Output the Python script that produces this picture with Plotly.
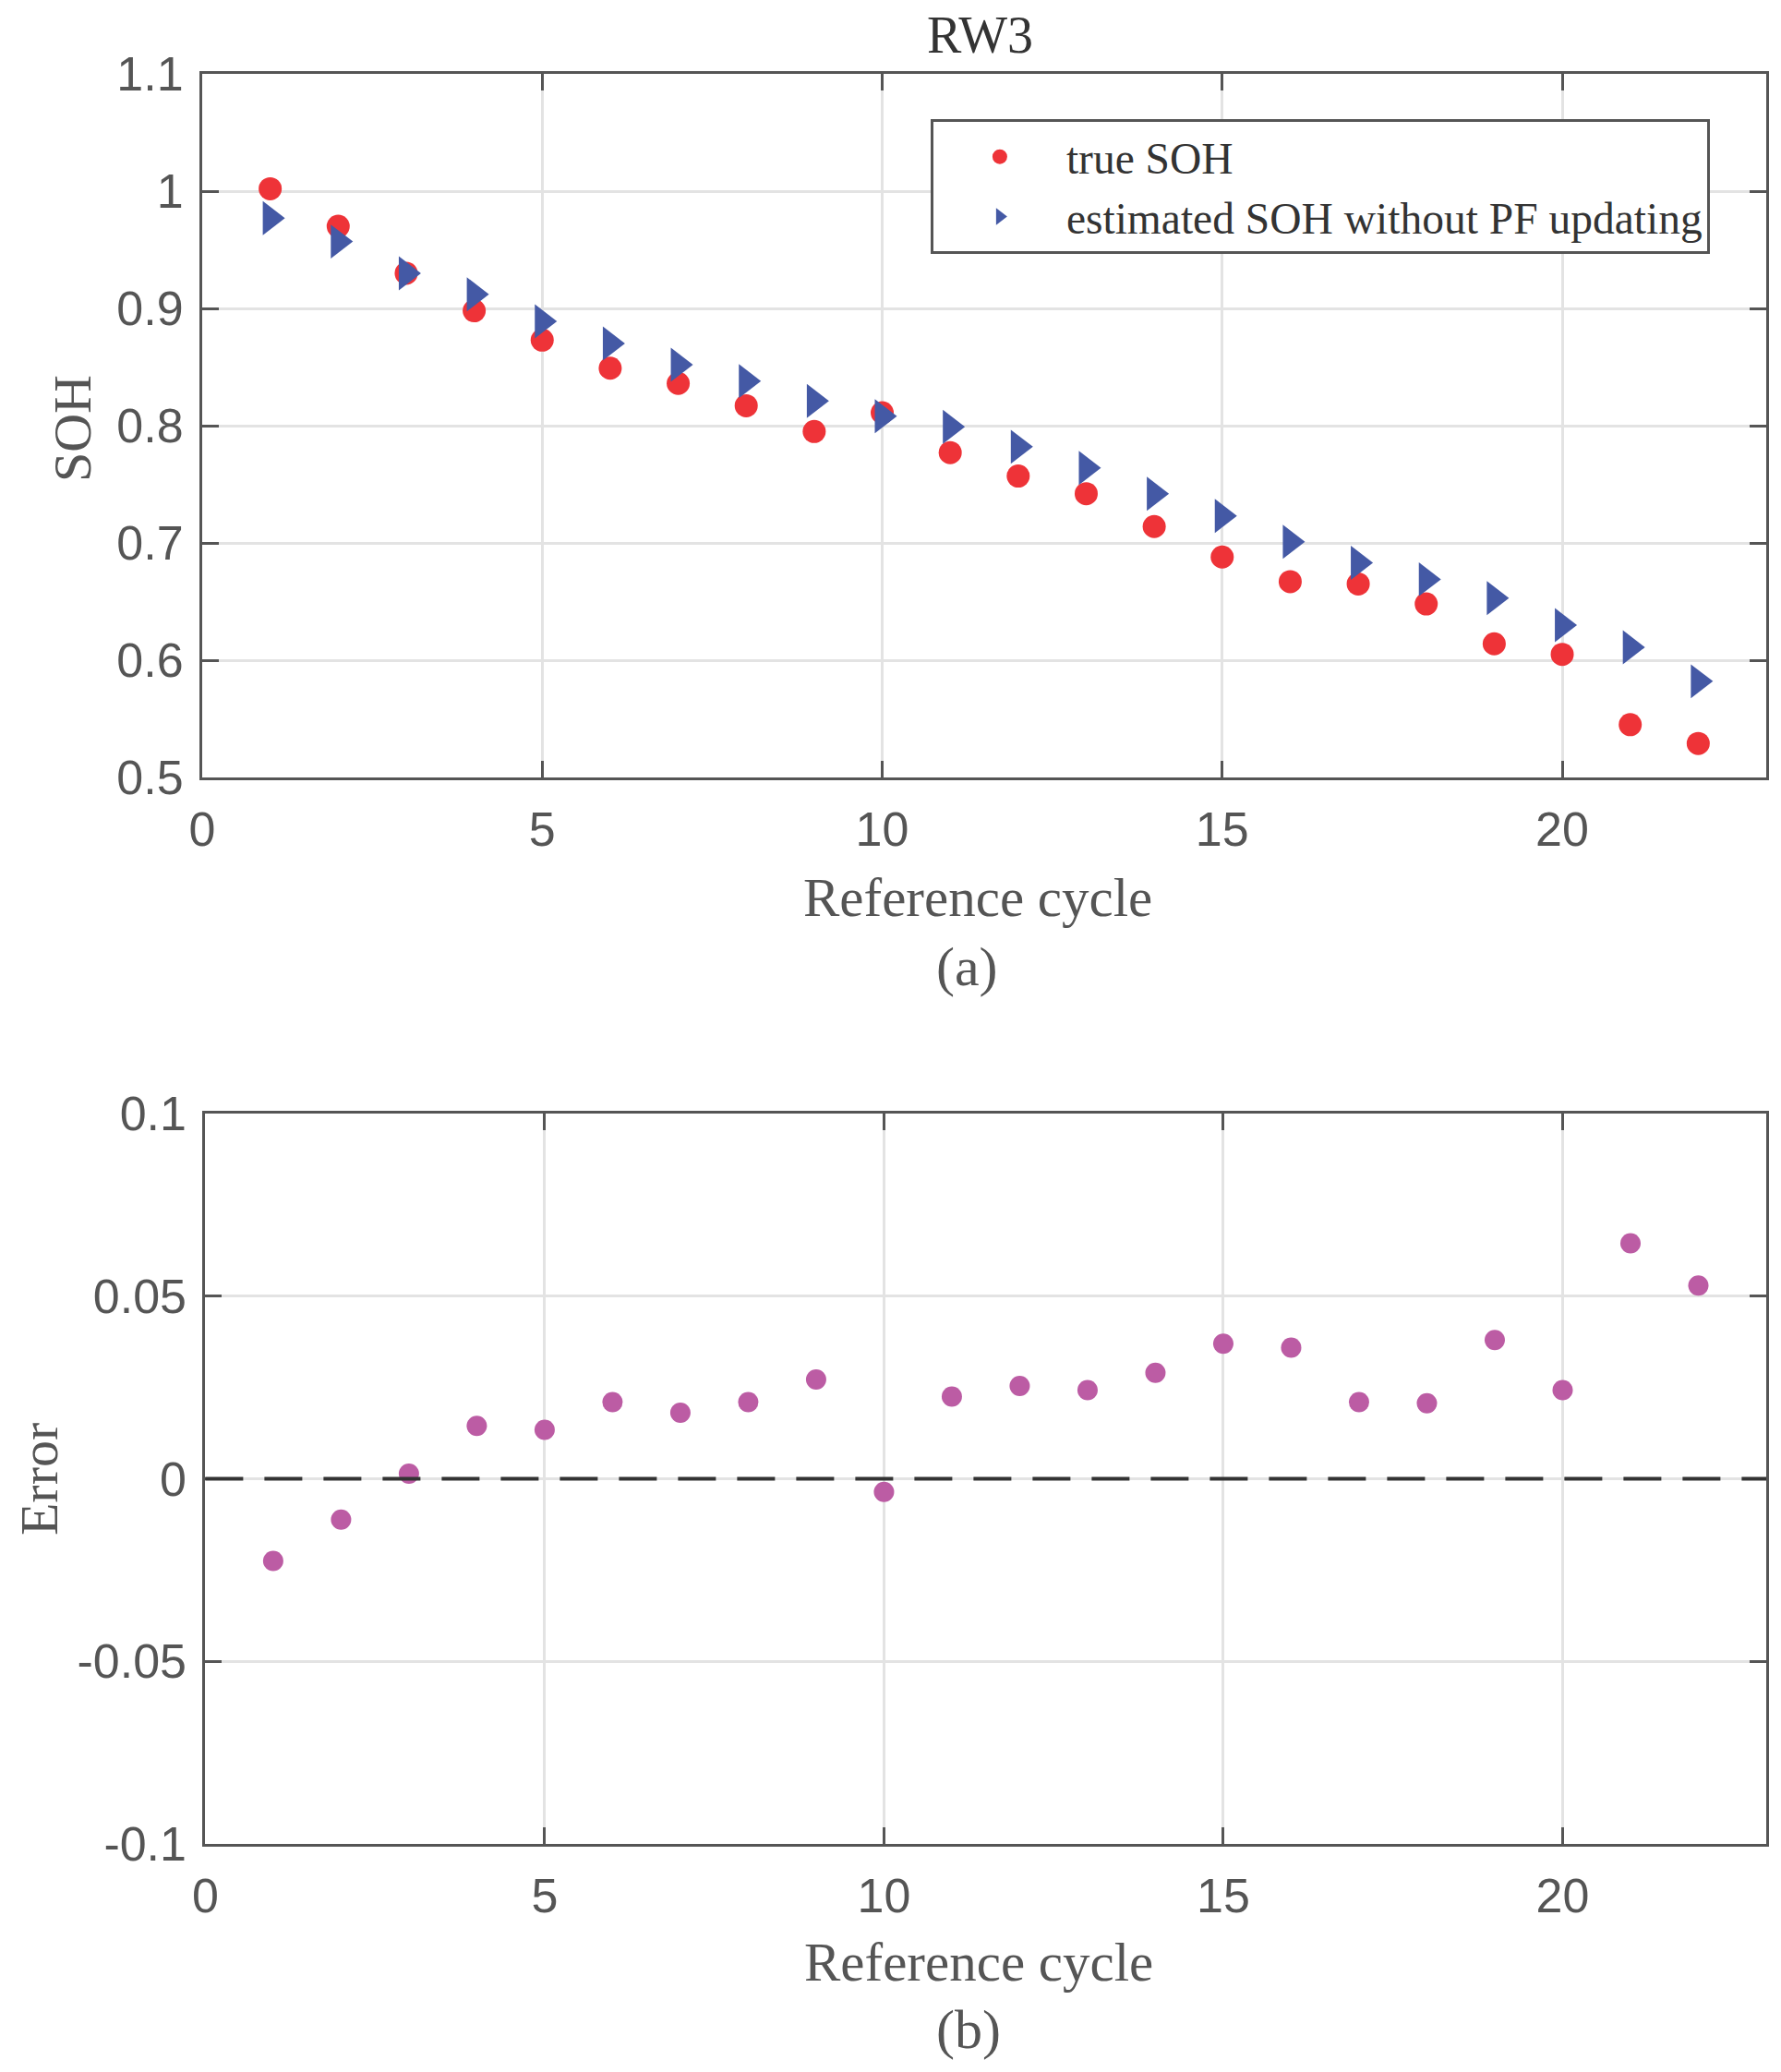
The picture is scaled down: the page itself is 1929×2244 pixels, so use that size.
import plotly.graph_objs as go

# data
cycles = list(range(1, 23))
true_soh = [1.002, 0.970, 0.930, 0.898, 0.873, 0.849, 0.836, 0.817, 0.795, 0.811, 0.777,
            0.757, 0.742, 0.714, 0.688, 0.667, 0.665, 0.648, 0.614, 0.605, 0.545, 0.529]
est_soh = [0.977, 0.957, 0.930, 0.912, 0.889, 0.870, 0.852, 0.838, 0.821, 0.808, 0.799,
           0.782, 0.764, 0.742, 0.723, 0.701, 0.683, 0.669, 0.653, 0.630, 0.611, 0.582]
error = [-0.0225, -0.0112, 0.0014, 0.0145, 0.0134, 0.0210, 0.0181, 0.0210, 0.0272, -0.0036, 0.0225,
         0.0254, 0.0243, 0.0290, 0.0370, 0.0359, 0.0210, 0.0207, 0.0380, 0.0243, 0.0645, 0.0529]

soh_ticks = [0.5, 0.6, 0.7, 0.8, 0.9, 1.0, 1.1]
soh_labels = ["0.5", "0.6", "0.7", "0.8", "0.9", "1", "1.1"]
err_ticks = [-0.1, -0.05, 0, 0.05, 0.1]
err_labels = ["-0.1", "-0.05", "0", "0.05", "0.1"]
x_ticks = [0, 5, 10, 15, 20]

serif = "Liberation Serif, Times New Roman, serif"
sans = "Liberation Sans, Arial, Helvetica, sans-serif"
axis_col = "#555555"
grid_col = "#e3e3e3"

fig = go.Figure()

fig.add_trace(go.Scatter(x=cycles, y=true_soh, mode="markers", name="true SOH",
                         marker=dict(symbol="circle", size=25, color="#ee3338"),
                         xaxis="x", yaxis="y"))
fig.add_trace(go.Scatter(x=cycles, y=est_soh, mode="markers",
                         name="estimated SOH without PF updating",
                         marker=dict(symbol="triangle-right", size=32, color="#4459a5"),
                         xaxis="x", yaxis="y"))
fig.add_trace(go.Scatter(x=cycles, y=error, mode="markers", showlegend=False,
                         marker=dict(symbol="circle", size=22, color="#bc5ca4"),
                         xaxis="x2", yaxis="y2"))

common = dict(showline=True, linecolor=axis_col, linewidth=3, mirror="ticks",
              ticks="inside", ticklen=18, tickwidth=3, tickcolor=axis_col,
              showgrid=True, gridcolor=grid_col, gridwidth=3, zeroline=False,
              tickfont=dict(family=sans, size=52, color=axis_col))

# the page body adds 8px, so margins are shifted by that much
fig.update_layout(
    width=1929, height=2244,
    margin=dict(l=211, r=24, t=72, b=255),
    paper_bgcolor="white", plot_bgcolor="white",
    xaxis=dict(domain=[0, 1], range=[0, 23], tickvals=x_ticks, anchor="y",
               ticklabelstandoff=9, **common),
    yaxis=dict(domain=[0.6025, 1], range=[0.5, 1.1], tickvals=soh_ticks,
               ticktext=soh_labels, anchor="x", ticklabelstandoff=7, **common),
    xaxis2=dict(domain=[0.002, 1], range=[0, 23], tickvals=x_ticks, anchor="y2",
                ticklabelstandoff=9, **common),
    yaxis2=dict(domain=[0, 0.4126], range=[-0.1, 0.1], tickvals=err_ticks,
                ticktext=err_labels, anchor="x2", ticklabelstandoff=7, **common),
    legend=dict(x=0.4657, y=0.9743, xanchor="left", yanchor="top",
                bgcolor="white", bordercolor=axis_col, borderwidth=3,
                itemwidth=134,
                font=dict(family=serif, size=47.5, color="#333333")),
)

# dashed zero reference line in the error panel
fig.add_shape(type="line", xref="x2 domain", yref="y2", x0=0, x1=1, y0=0, y1=0,
              line=dict(color="#333333", width=4, dash="41px,23px"))

texts = [
    ("RW3", 0.4975, 1.0219, 0, 56, "#333333"),
    ("Reference cycle", 0.496, 0.5347, 0, 59, axis_col),
    ("(a)", 0.489, 0.4956, 0, 60, axis_col),
    ("Reference cycle", 0.4965, -0.0668, 0, 59, axis_col),
    ("(b)", 0.490, -0.1049, 0, 60, axis_col),
    ("SOH", -0.0826, 0.7997, -90, 58, axis_col),
    ("Error", -0.1045, 0.206, -90, 58, axis_col),
]
for txt, xx, yy, ang, sz, col in texts:
    fig.add_annotation(text=txt, x=xx, y=yy, xref="paper", yref="paper",
                       xanchor="center", yanchor="middle", textangle=ang,
                       showarrow=False, font=dict(family=serif, size=sz, color=col))

fig.write_html("out.html")
